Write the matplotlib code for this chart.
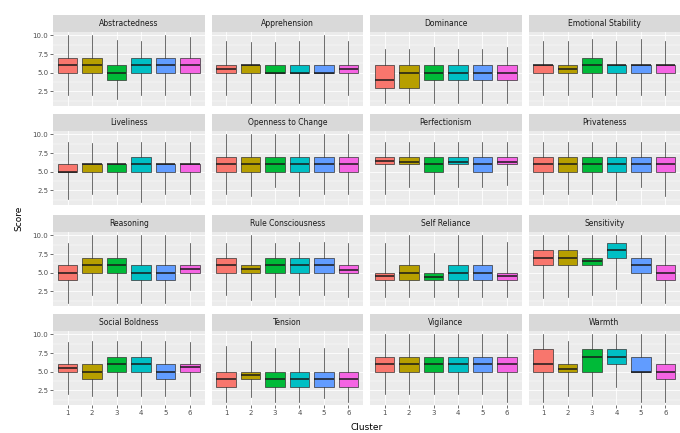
import matplotlib
matplotlib.use("Agg")
import matplotlib.pyplot as plt

# ---- data: per-trait five-number summaries (whislo, q1, median, q3, whishi) for clusters 1..6
clusters = ["1", "2", "3", "4", "5", "6"]
traits = ["Abstractedness", "Apprehension", "Dominance", "Emotional Stability",
          "Liveliness", "Openness to Change", "Perfectionism", "Privateness",
          "Reasoning", "Rule Consciousness", "Self Reliance", "Sensitivity",
          "Social Boldness", "Tension", "Vigilance", "Warmth"]

abstractedness = [[2, 5, 6, 7, 10], [2, 5, 6, 7, 10], [1.5, 4, 5, 6, 9.4],
                  [2, 5, 6, 7, 9.3], [2, 5, 6, 7, 10], [2, 5, 6, 7, 9.8]]
apprehension = [[2, 5, 5.5, 6, 9.3], [1, 5, 6, 6, 9.1], [1, 5, 5, 6, 9.1],
                [1, 5, 5, 6, 9.3], [1, 5, 5, 6, 10], [2, 5, 5.5, 6, 9.3]]
dominance = [[1, 3, 4, 6, 8.2], [1, 3, 5, 6, 8.2], [1, 4, 5, 6, 8.4],
             [1, 4, 5, 6, 8.2], [1, 4, 5, 6, 8.2], [1, 4, 5, 6, 8.4]]
emotional_stability = [[2, 5, 6, 6, 9.3], [2, 5, 5.5, 6, 9.3], [1.8, 5, 6, 7, 9.5],
                       [2, 5, 6, 6, 9.3], [2, 5, 6, 6, 9.5], [2, 5, 6, 6, 9.3]]
liveliness = [[1.4, 5, 5, 6, 9], [2, 5, 6, 6, 8.8], [2, 5, 6, 6, 9],
              [1, 5, 6, 7, 9], [2, 5, 6, 6, 9], [2, 5, 6, 6, 9]]
openness = [[2, 5, 6, 7, 10], [1.8, 5, 6, 7, 10], [3, 5, 6, 7, 10],
            [1.8, 5, 6, 7, 10], [2, 5, 6, 7, 10], [2, 5, 6, 7, 10]]
perfectionism = [[2, 6, 6.4, 7, 9], [3, 6, 6.3, 7, 9], [2, 5, 6, 7, 9],
                 [3, 6, 6.3, 7, 9], [3, 5, 6, 7, 9], [3.2, 6, 6.3, 7, 9]]
privateness = [[2, 5, 6, 7, 9], [2, 5, 6, 7, 9], [2, 5, 6, 7, 9],
               [1.2, 5, 6, 7, 9], [3, 5, 6, 7, 9], [1.8, 5, 6, 7, 9]]
reasoning = [[1, 4, 5, 6, 9], [2, 5, 6, 7, 10], [1, 5, 6, 7, 10],
             [1, 4, 5, 6, 10], [1, 4, 5, 6, 10], [2.7, 5, 5.5, 6, 9]]
rule_consciousness = [[2, 5, 6, 7, 9], [1.4, 5, 5.5, 6, 10], [1.8, 5, 6, 7, 9],
                      [2, 5, 6, 7, 9.1], [2, 5, 6, 7, 9.1], [1.8, 5, 5.3, 6, 9]]
self_reliance = [[1.8, 4, 4.5, 5, 9], [1.8, 4, 5, 6, 10], [1.8, 4, 4.4, 5, 7.7],
                 [1.8, 4, 5, 6, 10], [1.8, 4, 5, 6, 10], [1.8, 4, 4.6, 5, 9.1]]
sensitivity = [[1.6, 6, 7, 8, 10], [1.8, 6, 7, 8, 10], [2, 6, 6.6, 7, 10],
               [2.8, 7, 8, 9, 10], [1, 5, 6, 7, 10], [1, 4, 5, 6, 10]]
social_boldness = [[2, 5, 5.5, 6, 9], [1.8, 4, 5, 6, 9.1], [1.8, 5, 6, 7, 9.1],
                   [1.8, 5, 6, 7, 9.1], [1.8, 4, 5, 6, 9.1], [1.8, 5, 5.6, 6, 9]]
tension = [[1, 3, 4, 5, 8.4], [1.6, 4, 4.5, 5, 9.1], [1, 3, 4, 5, 8.2],
           [1, 3, 4, 5, 8.2], [1.5, 3, 4, 5, 8.2], [1, 3, 4, 5, 8.2]]
vigilance = [[2, 5, 6, 7, 10], [2, 5, 6, 7, 10], [2, 5, 6, 7, 10],
             [2, 5, 6, 7, 10], [2, 5, 6, 7, 10], [1, 5, 6, 7, 10]]
warmth = [[1, 5, 6, 8, 10], [1.8, 5, 5.3, 6, 9.1], [1.8, 5, 7, 8, 10],
          [3, 6, 7, 8, 10], [1, 5, 5, 7, 10], [1, 4, 5, 6, 10]]

trait_stats = [abstractedness, apprehension, dominance, emotional_stability,
               liveliness, openness, perfectionism, privateness,
               reasoning, rule_consciousness, self_reliance, sensitivity,
               social_boldness, tension, vigilance, warmth]

y_ticks = [2.5, 5.0, 7.5, 10.0]
y_tick_labels = ["2.5", "5.0", "7.5", "10.0"]

colors = ["#F8766D", "#B79F00", "#00BA38", "#00BFC4", "#619CFF", "#F564E3"]

# ---- layout (pixel based)
W, H = 680, 433
fig = plt.figure(figsize=(W / 100, H / 100), dpi=100)
fig.patch.set_facecolor("white")

col_lefts = [53, 211.5, 370, 528.5]
panel_w = 151.5
panel_tops = [32, 131, 232, 331]
panel_h = 74
strip_h = 17

def px_axes(left, top, width, height):
    return fig.add_axes([left / W, 1 - (top + height) / H, width / W, height / H])

positions = list(range(1, len(clusters) + 1))

for idx, (name, stats) in enumerate(zip(traits, trait_stats)):
    r, c = divmod(idx, 4)
    ax = px_axes(col_lefts[c], panel_tops[r], panel_w, panel_h)
    ax.set_facecolor("#EBEBEB")
    for s in ax.spines.values():
        s.set_visible(False)

    bstats = []
    for cl, st in zip(clusters, stats):
        bstats.append(dict(label=cl, whislo=st[0], q1=st[1], med=st[2], q3=st[3],
                           whishi=st[4], fliers=[]))
    bp = ax.bxp(bstats, positions=positions, widths=0.8, patch_artist=True,
                showfliers=False, showcaps=False, manage_ticks=False,
                boxprops=dict(edgecolor="#333333", linewidth=0.5),
                whiskerprops=dict(color="#333333", linewidth=0.5),
                medianprops=dict(color="#1A1A1A", linewidth=1.1))
    for patch, col in zip(bp["boxes"], colors):
        patch.set_facecolor(col)

    ax.set_xlim(0.4, 6.6)
    ax.set_ylim(0.55, 10.45)
    ax.set_yticks(y_ticks)
    ax.set_yticks([1.25, 3.75, 6.25, 8.75], minor=True)
    ax.set_xticks(positions)
    ax.grid(True, which="major", color="white", linewidth=0.6)
    ax.grid(True, which="minor", axis="y", color="white", linewidth=0.3)
    ax.set_axisbelow(True)

    ax.tick_params(which="minor", length=0)
    if c == 0:
        ax.set_yticklabels(y_tick_labels)
        ax.tick_params(axis="y", length=2, width=0.5, color="#333333",
                       labelsize=5, labelcolor="#4D4D4D", pad=1.5)
    else:
        ax.tick_params(axis="y", length=0, labelleft=False)
    if r == 3:
        ax.set_xticklabels(clusters)
        ax.tick_params(axis="x", length=2, width=0.5, color="#333333",
                       labelsize=5, labelcolor="#4D4D4D", pad=1.5)
    else:
        ax.tick_params(axis="x", length=0, labelbottom=False)

    sax = px_axes(col_lefts[c], panel_tops[r] - strip_h, panel_w, strip_h)
    sax.set_facecolor("#D9D9D9")
    sax.set_xticks([])
    sax.set_yticks([])
    for s in sax.spines.values():
        s.set_visible(False)
    sax.text(0.5, 0.5, name, ha="center", va="center", fontsize=5.5,
             color="#1A1A1A", transform=sax.transAxes)

fig.text((53 + 680) / 2 / W, 1 - 427 / H, "Cluster", ha="center", va="center",
         fontsize=6.5, color="black")
fig.text(19 / W, 1 - 218 / H, "Score", ha="center", va="center",
         rotation=90, fontsize=6.5, color="black")

fig.savefig("out.png", dpi=100, facecolor="white")
